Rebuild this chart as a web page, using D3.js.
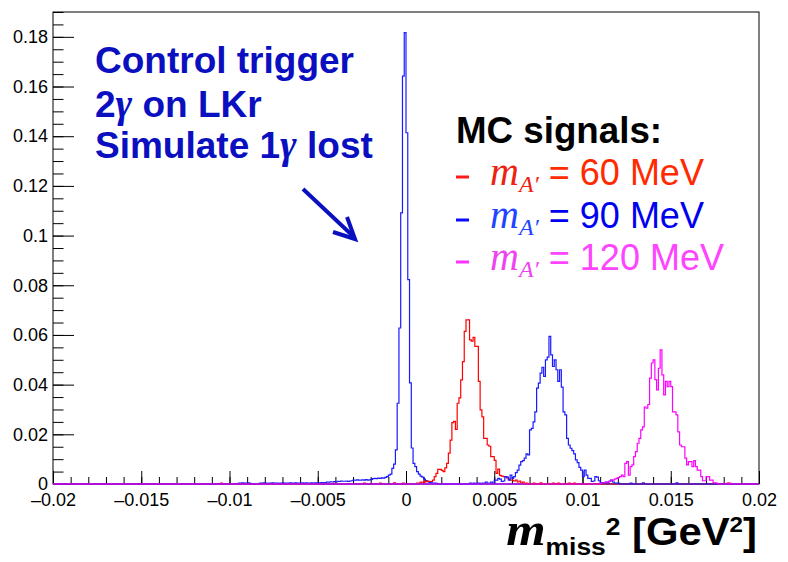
<!DOCTYPE html>
<html><head><meta charset="utf-8">
<script src="https://cdn.jsdelivr.net/npm/d3@7"></script>
<style>body{margin:0;background:#fff}svg{display:block}</style>
</head><body><svg id="c" width="788" height="562"></svg>
<script>
// ---------- data ----------
const xTickValues = [-0.02,-0.015,-0.01,-0.005,0,0.005,0.01,0.015,0.02];
const xTickLabels = ["\u20130.02","\u20130.015","\u20130.01","\u20130.005","0","0.005","0.01","0.015","0.02"];
const yTickValues = [0,0.02,0.04,0.06,0.08,0.1,0.12,0.14,0.16,0.18];
const yTickLabels = ["0","0.02","0.04","0.06","0.08","0.1","0.12","0.14","0.16","0.18"];

const binLow = -0.02, binWidth = 0.0001, nBins = 400;

// Control trigger (2γ on LKr, simulate 1γ lost) – blue
const controlStart = -0.0096;
const controlValues = [
 0,0.0004,0.0004,0.0005,0.0004,0.0004,0.0005,0.0004,0,0,
 0,0,0,
 0.0004,0.0004,0.0005,0.0004,0.0003,0.0004,0.0004,0.0005,0.0004,0.0004,
 0.0004,0.0003,0.0004,0.0005,0.0004,0.0004,0.0004,0.0005,0.0004,0.0004,
 0.0005,0.0004,0.0004,0.0004,0.0005,0.0004,0.0005,0.0004,0.0004,0.0005,
 0.0004,0.0005,0.0005,0.0004,0.0005,0.0006,0.0005,0.0006,
 0.0008,0.0007,0.0009,0.0008,0.0010,0.0008,
 0.0011,0.0010,0.0012,0.0011,0.0011,0.0012,0.0010,0.0012,0.0013,
 0.0016,0.0015,0.0017,0.0016,0.0015,0.0017,0.0016,0.0018,0.0016,0.0017,0.0019,
 0.0022,0.0023,0.0022,0.0024,0.0023,0.0025,0.0024,0.0027,
 0.0030,0.0036,0.0040,0.0063,0.0080,0.0137,0.0325,0.0628,0.1091,0.1642,
 0.1817,0.1414,0.0823,0.0407,0.0145,0.0083,0.0070,0.0050,0.0040,0.0032,
 0.0028,0.0020,0.0014,0.0010,0.0006,0.0005,0.0004,0.0004,0.0003,0
];
const controlStrays = [];

// m_A' = 60 MeV – red
const sig60Start = 0.0006;
const sig60Values = [
 0.0004,0.0004,0.0008,0.0004,0.0012,0.0008,0.0012,0.0010,0.0010,0.0016,
 0.0030,0.0043,0.0059,0.0059,0.0055,0.0050,0.0065,0.0083,0.0124,0.0177,
 0.0247,0.0252,0.0220,0.0325,0.0347,0.0419,0.0493,0.0614,0.0661,0.0661,
 0.0580,0.0575,0.0590,0.0554,0.0554,0.0413,0.0298,0.0270,0.0184,0.0184,
 0.0157,0.0152,0.0110,0.0110,0.0095,0.0043,0.0060,0.0035,0.0032,0.0030,
 0.0030,0.0025,0.0020,0.0016,0.0015,0.0012,0.0016,0.0008,0.0012,0.0004,
 0.0008,0,0.0004
];
const sig60Strays = [[-0.0105,0.0004],[-0.0041,0.0003],[-0.0024,0.0004],[-0.0015,0.0004],
 [-0.0007,0.0005],[-0.0002,0.0004],[0.0072,0.0004],[0.0076,0.0005],[0.0083,0.0004],
 [0.0086,0.0004],[0.0092,0.0004],[0.0095,0.0004],[0.0134,0.0004],[0.0182,0.0004]];

// m_A' = 90 MeV – blue
const sig90Start = 0.0036;
const sig90Values = [
 0.0004,0,0.0004,0,0.0004,0.0004,0,0.0004,0.0004,0.0008,0.0004,0.0004,0.0008,0.0004,
 0.0016,0.0016,0.0023,0.0020,0.0010,0.0012,0.0030,0.0028,0.0016,0.0036,
 0.0023,0.0030,0.0046,0.0056,0.0076,0.0090,0.0094,0.0104,0.0121,0.0117,
 0.0218,0.0224,0.0250,0.0290,0.0386,0.0406,0.0446,0.0470,0.0433,0.0500,
 0.0511,0.0594,0.0520,0.0473,0.0500,0.0460,0.0413,0.0460,0.0390,0.0290,
 0.0278,0.0184,0.0157,0.0144,0.0134,0.0121,0.0097,0.0086,0.0067,0.0056,
 0.0030,0.0056,0.0036,0.0023,0.0023,0.0010,0.0012,0.0030,0.0028,0.0013,
 0.0005,0.0006,0.0004,0.0008,0.0004,0.0012,0.0016,0.0008,0.0004,0.0004,0.0004
];
const sig90Strays = [[0.0127,0.0004],[0.0134,0.0004],[0.0153,0.0005]];

// m_A' = 120 MeV – magenta
const sig120Start = 0.0110;
const sig120Values = [
 0.0003,0.0005,0.0005,0.0008,0.0008,0.0010,0.0016,0.0016,0.0020,0.0023,
 0.0026,0.0030,0.0036,0.0030,0.0083,0.0090,0.0036,0.0070,0.0077,0.0110,
 0.0130,0.0164,0.0184,0.0218,0.0230,0.0310,0.0305,0.0320,0.0426,0.0487,
 0.0500,0.0420,0.0379,0.0466,0.0540,0.0439,0.0359,0.0413,0.0392,0.0413,
 0.0392,0.0290,0.0290,0.0278,0.0210,0.0157,0.0150,0.0150,0.0104,0.0077,
 0.0090,0.0090,0.0070,0.0094,0.0070,0.0056,0.0056,0.0030,0.0013,0.0013,
 0.0030,0.0030,0.0016,0.0016,0.0005,0.0005,0.0003
];
const sig120Strays = [[0.0183,0.0004]];

// ---------- layout ----------
const svg = d3.select("#c");
const L = 53, R = 759, T = 12, B = 484;
const x = d3.scaleLinear().domain([-0.02,0.02]).range([L,R]);
const y = d3.scaleLinear().domain([0,0.19]).range([B,T]);
const SANS = "'Liberation Sans', Arial, Helvetica, sans-serif";
const SERIF = "'Liberation Serif', 'Times New Roman', serif";

// frame
svg.append("rect").attr("x",L).attr("y",T).attr("width",R-L).attr("height",B-T)
  .attr("fill","none").attr("stroke","#000").attr("stroke-width",1);

// minor ticks
const xMinor = d3.range(-20,21).map(i=>i/1000);
const yMinor = d3.range(0,39).map(i=>i*0.005);
const gxm = svg.append("g").attr("transform",`translate(0,${B})`)
  .call(d3.axisBottom(x).tickValues(xMinor).tickSizeInner(-7).tickSizeOuter(0).tickFormat(""));
const gym = svg.append("g").attr("transform",`translate(${L},0)`)
  .call(d3.axisLeft(y).tickValues(yMinor).tickSizeInner(-10.5).tickSizeOuter(0).tickFormat(""));
// major ticks + labels
const gx = svg.append("g").attr("transform",`translate(0,${B})`)
  .call(d3.axisBottom(x).tickValues(xTickValues).tickSizeInner(-13).tickSizeOuter(0).tickPadding(9)
    .tickFormat((d,i)=>xTickLabels[i]));
const gy = svg.append("g").attr("transform",`translate(${L},0)`)
  .call(d3.axisLeft(y).tickValues(yTickValues).tickSizeInner(-21).tickSizeOuter(0).tickPadding(5)
    .tickFormat((d,i)=>yTickLabels[i]));
[gxm,gym,gx,gy].forEach(g=>{
  g.select(".domain").remove();
  g.selectAll(".tick line").attr("stroke","#000").attr("stroke-width",1);
  g.selectAll("text").attr("font-family",SANS).attr("font-size",18).attr("fill","#000");
});

// ---------- histograms ----------
function buildBins(start, values, strays){
  const arr = new Array(nBins).fill(0);
  const i0 = Math.round((start-binLow)/binWidth);
  values.forEach((v,j)=>{ const k=i0+j; if(k>=0&&k<nBins) arr[k]=v; });
  strays.forEach(([s,v])=>{ const k=Math.round((s-binLow)/binWidth); if(k>=0&&k<nBins) arr[k]=v; });
  return arr;
}
const line = d3.line().x(d=>x(d[0])).y(d=>y(d[1]));
const series = [
  {vals: buildBins(controlStart,controlValues,controlStrays), color:"#1a1aff"},
  {vals: buildBins(sig60Start,sig60Values,sig60Strays), color:"#ff0000"},
  {vals: buildBins(sig90Start,sig90Values,sig90Strays), color:"#1a1aff"},
  {vals: buildBins(sig120Start,sig120Values,sig120Strays), color:"#ff00ff"}
];
svg.append("defs").append("clipPath").attr("id","clip").append("rect")
  .attr("x",L).attr("y",T-1).attr("width",R-L).attr("height",B-T+2);
const hg = svg.append("g").attr("clip-path","url(#clip)");
series.forEach(s=>{
  const pts = s.vals.flatMap((v,i)=>[[binLow+i*binWidth,v],[binLow+(i+1)*binWidth,v]]);
  hg.append("path").attr("d",line(pts)).attr("fill","none")
    .attr("stroke",s.color).attr("stroke-width",1.2);
});

// ---------- annotations ----------
const annColor = "#0a0fc0";
const ann = svg.append("g").attr("fill",annColor).attr("font-family",SANS).attr("font-weight","bold").attr("font-size",37);
ann.append("text").attr("x",95).attr("y",73).text("Control trigger");
const t2 = ann.append("text").attr("x",95).attr("y",117);
t2.append("tspan").text("2");
t2.append("tspan").attr("font-family",SERIF).attr("font-style","italic").attr("font-size",40).text("\u03b3");
t2.append("tspan").text(" on LKr");
const t3 = ann.append("text").attr("x",95).attr("y",158);
t3.append("tspan").text("Simulate 1");
t3.append("tspan").attr("font-family",SERIF).attr("font-style","italic").attr("font-size",40).text("\u03b3");
t3.append("tspan").text(" lost");

// arrow
const ag = svg.append("g").attr("stroke",annColor).attr("stroke-width",4).attr("stroke-linecap","butt").attr("fill","none");
ag.append("line").attr("x1",303).attr("y1",189).attr("x2",354).attr("y2",237);
ag.append("polyline").attr("points","333,232 355,239 347,217").attr("stroke-linejoin","miter");

// legend
svg.append("text").attr("x",456).attr("y",143).attr("font-family",SANS).attr("font-weight","bold")
  .attr("font-size",36).attr("fill","#000").attr("transform","translate(456,0) scale(1.02,1) translate(-456,0)")
  .text("MC signals:");
const legend = [
  {label:"60 MeV", line:"#ff1a1a", m:"#ee2211", txt:"#ff2a00", yb:185},
  {label:"90 MeV", line:"#0a0aff", m:"#2244ff", txt:"#0000f0", yb:228},
  {label:"120 MeV", line:"#ff33ff", m:"#ee44ee", txt:"#ff44ff", yb:270}
];
legend.forEach(e=>{
  svg.append("line").attr("x1",456).attr("x2",469).attr("y1",e.yb-8).attr("y2",e.yb-8)
    .attr("stroke",e.line).attr("stroke-width",3);
  const t = svg.append("text").attr("x",490).attr("y",e.yb);
  t.append("tspan").attr("font-family",SERIF).attr("font-style","italic").attr("font-size",40).attr("fill",e.m).text("m");
  t.append("tspan").attr("font-family",SERIF).attr("font-style","italic").attr("font-size",24).attr("dy",7).attr("fill",e.m).text("A\u2032");
  t.append("tspan").attr("font-family",SANS).attr("font-size",36).attr("dy",-7).attr("fill",e.txt).text(" = " + e.label);
});

// x axis title
const xt = svg.append("text").attr("x",0).attr("y",0).attr("text-anchor","end")
  .attr("transform","translate(757,545) scale(1.1,1)")
  .attr("font-family",SANS).attr("font-weight","bold").attr("fill","#000");
xt.append("tspan").attr("font-family",SERIF).attr("font-style","italic").attr("font-size",46).text("m");
xt.append("tspan").attr("font-size",24).attr("dy",10).text("miss");
xt.append("tspan").attr("font-size",24).attr("dy",-20).text("2");
xt.append("tspan").attr("font-size",38).attr("dy",10).text(" [GeV");
xt.append("tspan").attr("font-size",22).attr("dy",-13).text("2");
xt.append("tspan").attr("font-size",38).attr("dy",13).text("]");
</script></body></html>
